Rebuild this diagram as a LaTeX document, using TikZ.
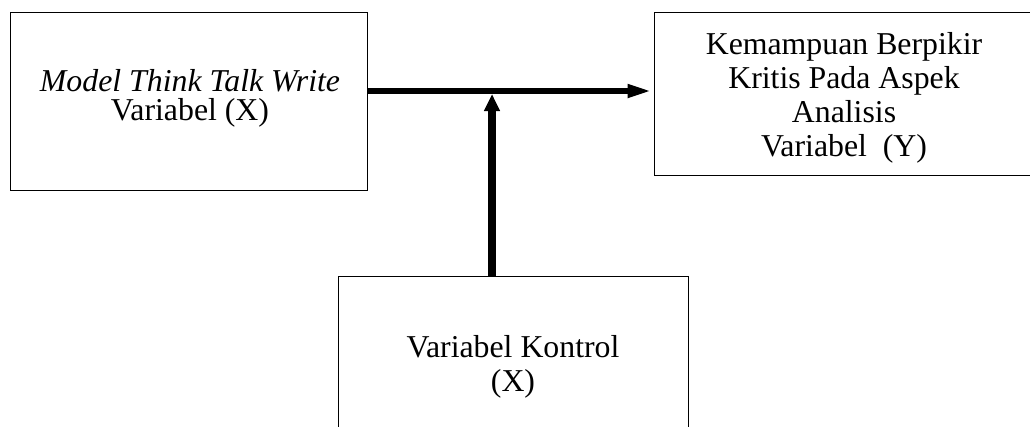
\documentclass[tikz,border=0pt]{standalone}
\usepackage{fontspec}
\setmainfont{Liberation Serif}
\usetikzlibrary{arrows.meta}
\begin{document}
\begin{tikzpicture}[x=1pt,y=-1pt,
  box/.style={draw, line width=1pt, inner sep=0pt},
  bigtext/.style={inner sep=0pt, align=center, font=\fontsize{31.8}{34}\selectfont},
  hconn/.style={line width=6.5pt, -{Triangle[length=26pt,width=12pt]}},
  vconn/.style={line width=8.5pt, -{Triangle[length=17pt,width=15pt]}}]
\useasboundingbox (0,0) rectangle (1030,426);
\node[box, minimum width=357pt, minimum height=178pt] (A) at (188.5,101) {};
\node[bigtext, font=\fontsize{31.8}{29}\selectfont] (At) at (190,98)
  {\textit{Model Think Talk Write}\\Variabel (X)};
\node[box, minimum width=380pt, minimum height=163pt] (B) at (844,93.5) {};
\node[bigtext] (Bt) at (844,97.5)
  {Kemampuan Berpikir\\Kritis Pada Aspek\\Analisis\\Variabel\ \ (Y)};
\node[box, minimum width=350pt, minimum height=176pt] (C) at (513,364) {};
\node[bigtext] (Ct) at (513,366.5) {Variabel Kontrol\\(X)};
\coordinate (j) at (492,91);
\coordinate (t) at (492,94);
\draw[hconn] (A.east |- j) -- (B.west |- j);
\draw[vconn] (t |- C.north) -- (t);
\end{tikzpicture}
\end{document}
